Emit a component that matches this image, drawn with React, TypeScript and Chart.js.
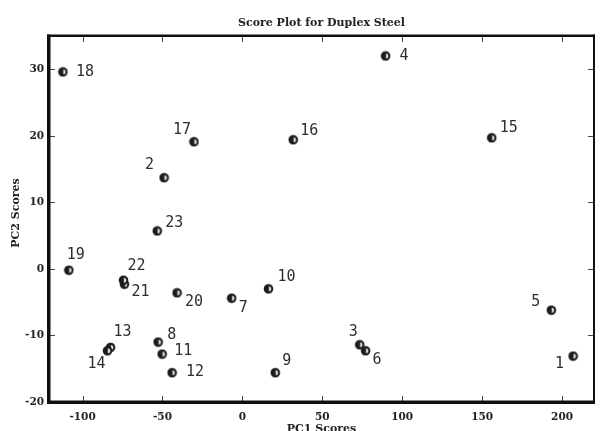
import React, { useEffect, useRef } from "react";
import { Chart, registerables } from "chart.js";

Chart.register(...registerables);

const sampleLabels = ["1","2","3","4","5","6","7","8","9","10","11","12","13","14","15","16","17","18","19","20","21","22","23"];
const pc1Scores = [206.9, -49.0, 73.4, 89.6, 193.3, 77.1, -6.7, -52.7, 20.6, 16.3, -50.2, -44.0, -82.5, -84.4, 156.0, 31.8, -30.3, -112.3, -108.6, -40.9, -73.8, -74.4, -53.3];
const pc2Scores = [-13.1, 13.7, -11.4, 32.0, -6.2, -12.3, -4.4, -11.0, -15.6, -3.0, -12.8, -15.6, -11.8, -12.3, 19.7, 19.4, 19.1, 29.6, -0.2, -3.6, -2.3, -1.7, 5.7];
const xTickValues = [-100, -50, 0, 50, 100, 150, 200];
const yTickValues = [-20, -10, 0, 10, 20, 30];

// label placement: [dx, dy, align] relative to the marker
const labelPlacement: [number, number, "left" | "right"][] = [
  [-9, 8, "right"],   // 1
  [-10, -13, "right"],// 2
  [-2, -13, "right"], // 3
  [14, 0, "left"],    // 4
  [-11, -8, "right"], // 5
  [7, 9, "left"],     // 6
  [7, 10, "left"],    // 7
  [9, -7, "left"],    // 8
  [7, -12, "left"],   // 9
  [9, -12, "left"],   // 10
  [12, -3, "left"],   // 11
  [14, -1, "left"],   // 12
  [3, -15, "left"],   // 13
  [-2, 13, "right"],  // 14
  [8, -10, "left"],   // 15
  [7, -9, "left"],    // 16
  [-3, -12, "right"], // 17
  [13, 0, "left"],    // 18
  [-2, -15, "left"],  // 19
  [8, 9, "left"],     // 20
  [7, 8, "left"],     // 21
  [4, -14, "left"],   // 22
  [8, -8, "left"],    // 23
];

function makeMarker(): HTMLCanvasElement {
  const c = document.createElement("canvas");
  c.width = 11;
  c.height = 11;
  const ctx = c.getContext("2d")!;
  ctx.fillStyle = "#1c1c1c";
  ctx.beginPath();
  ctx.arc(5.5, 5.5, 4.8, 0, Math.PI * 2);
  ctx.fill();
  ctx.fillStyle = "#d8d8d8";
  ctx.beginPath();
  ctx.arc(5.8, 5.5, 2.5, -Math.PI / 2, Math.PI / 2);
  ctx.closePath();
  ctx.fill();
  return c;
}

export default function App() {
  const ref = useRef<HTMLCanvasElement>(null);

  useEffect(() => {
    document.body.style.margin = "0";
    const canvas = ref.current!;
    const marker = makeMarker();

    const decor = {
      id: "decor",
      afterDraw(chart: any) {
        const ctx = chart.ctx as CanvasRenderingContext2D;
        const a = chart.chartArea;
        const xs = chart.scales.x;
        const ys = chart.scales.y;
        ctx.save();
        // tick marks inward on all sides
        ctx.strokeStyle = "#444";
        ctx.lineWidth = 1;
        ctx.beginPath();
        xTickValues.forEach((v) => {
          const px = Math.round(xs.getPixelForValue(v)) + 0.5;
          ctx.moveTo(px, a.bottom);
          ctx.lineTo(px, a.bottom - 6);
          ctx.moveTo(px, a.top);
          ctx.lineTo(px, a.top + 6);
        });
        yTickValues.forEach((v) => {
          const py = Math.round(ys.getPixelForValue(v)) + 0.5;
          ctx.moveTo(a.left, py);
          ctx.lineTo(a.left + 6, py);
          ctx.moveTo(a.right, py);
          ctx.lineTo(a.right - 6, py);
        });
        ctx.stroke();
        // frame
        ctx.fillStyle = "#111";
        ctx.fillRect(a.left - 2, a.top - 1.5, 3.5, a.bottom - a.top + 3.5);
        ctx.fillRect(a.left - 2, a.bottom - 1.5, a.right - a.left + 3, 3.5);
        ctx.fillRect(a.left - 2, a.top - 1.5, a.right - a.left + 3, 2.5);
        ctx.fillRect(a.right - 1, a.top - 1.5, 2, a.bottom - a.top + 3);

        // point labels
        ctx.fillStyle = "#2e2e2e";
        ctx.font = "15px 'DejaVu Sans Mono'";
        ctx.textBaseline = "middle";
        sampleLabels.forEach((lab, i) => {
          const px = xs.getPixelForValue(pc1Scores[i]);
          const py = ys.getPixelForValue(pc2Scores[i]);
          const [dx, dy, al] = labelPlacement[i];
          ctx.textAlign = al;
          ctx.fillText(lab, px + dx, py + dy);
        });

        // titles
        const cx = (a.left + a.right) / 2;
        const cy = (a.top + a.bottom) / 2;
        ctx.fillStyle = "#222";
        ctx.textAlign = "center";
        ctx.font = "bold 11px 'DejaVu Serif'";
        ctx.fillText("Score Plot for Duplex Steel", cx, 23);
        ctx.font = "bold 11px 'DejaVu Serif'";
        ctx.fillText("PC1 Scores", cx, 429);
        ctx.save();
        ctx.translate(16, cy - 6);
        ctx.rotate(-Math.PI / 2);
        ctx.fillText("PC2 Scores", 0, 0);
        ctx.restore();
        ctx.restore();
      },
    };

    const chart = new Chart(canvas, {
      type: "scatter",
      data: {
        datasets: [
          {
            label: "Scores",
            data: pc1Scores.map((x, i) => ({ x, y: pc2Scores[i] })),
            pointStyle: marker as any,
            pointRadius: 5,
          },
        ],
      },
      options: {
        animation: false,
        responsive: false,
        devicePixelRatio: 1,
        layout: { padding: { top: 36, right: 2, left: 0, bottom: 0 } },
        plugins: {
          legend: { display: false },
          tooltip: { enabled: false },
          title: { display: false },
        },
        scales: {
          x: {
            type: "linear",
            min: -121,
            max: 220,
            grid: { display: false, drawTicks: false },
            border: { display: false },
            afterBuildTicks: (s: any) => {
              s.ticks = xTickValues.map((v) => ({ value: v }));
            },
            afterFit: (s: any) => {
              s.height = 29;
            },
            ticks: {
              padding: 9,
              color: "#222",
              font: { family: "'DejaVu Serif'", size: 10.5, weight: "bold" },
              maxRotation: 0,
              callback: (v: any) => String(v),
            },
          },
          y: {
            type: "linear",
            min: -20,
            max: 35,
            grid: { display: false, drawTicks: false },
            border: { display: false },
            afterBuildTicks: (s: any) => {
              s.ticks = yTickValues.map((v) => ({ value: v }));
            },
            afterFit: (s: any) => {
              s.width = 49;
            },
            ticks: {
              padding: 5,
              color: "#222",
              font: { family: "'DejaVu Serif'", size: 10.5, weight: "bold" },
              callback: (v: any) => String(v),
            },
          },
        },
      },
      plugins: [decor],
    });
    return () => chart.destroy();
  }, []);

  return <canvas ref={ref} width={600} height={431} style={{ display: "block" }} />;
}
